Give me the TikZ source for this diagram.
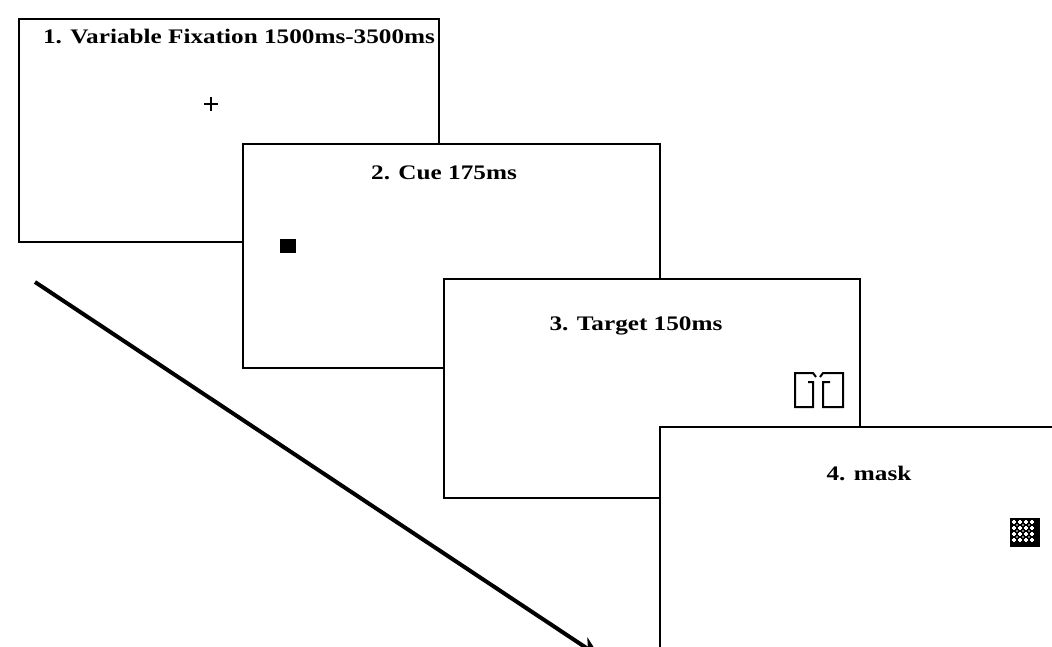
\documentclass[tikz,border=0pt]{standalone}
\usepackage{fontspec}
\setmainfont{Liberation Serif}
\usetikzlibrary{fit,arrows.meta}
\newcommand{\widetext}[1]{\scalebox{1.22}[1]{#1}}
\begin{document}
\begin{tikzpicture}[x=0.75pt,y=-0.75pt,
  screen/.style={draw=black, line width=1.5pt, fill=white, inner sep=0pt},
  lbl/.style={font=\fontsize{15.5}{18}\selectfont\bfseries, inner sep=0pt},
  timeline/.style={line width=3pt, -{Stealth[length=16pt,width=14pt]}},
  sym/.style={line width=1.5pt}]
\useasboundingbox (0,0) rectangle (1052,646);
\fill[white] (0,0) rectangle (1052,646);
\clip (0,0) rectangle (1052,646);

% timeline arrow
\coordinate (tstart) at (35,282);
\coordinate (tend) at (600,657);
\draw[timeline] (tstart) -- (tend);

% screen 1
\node[screen, fit={(19,19)(439,242)}] (s1) {};
\node[lbl] (l1) at (239,36) {\widetext{1. Variable Fixation 1500ms-3500ms}};
\draw[line width=2pt] (204,104) -- (218,104) (211,97) -- (211,111);

% screen 2
\node[screen, fit={(243,144)(660,368)}] (s2) {};
\node[lbl] (l2) at (444,173) {\widetext{2. Cue 175ms}};
\node[fill=black, minimum width=12pt, minimum height=10.5pt, inner sep=0pt] (cue) at (288,246) {};

% screen 3
\node[screen, fit={(444,279)(860,498)}] (s3) {};
\node[lbl] (l3) at (636,326) {\widetext{3. Target 150ms}};
\draw[sym] (808,382) -- (813,382) -- (813,407) -- (795,407) -- (795,373) -- (813,373) -- (816,377);
\draw[sym] (830,382) -- (823,382) -- (823,407) -- (843,407) -- (843,373) -- (823,373) -- (820,377);

% screen 4
\node[screen, fit={(660,427)(1070,670)}] (s4) {};
\node[lbl] (l4) at (869,473) {\widetext{4. mask}};
\node[fill=black, minimum width=22.5pt, minimum height=21.75pt, inner sep=0pt] (mask) at (1025,532.5) {};
\foreach \i in {0,...,3}{
  \foreach \j in {0,...,3}{
    \draw[white, line width=1pt] (1014+6*\i,522+6*\j) ++(-1.6,0) -- ++(3.2,0) ++(-1.6,-1.6) -- ++(0,3.2);
  }
}
\foreach \i in {0,...,2}{
  \foreach \j in {0,...,2}{
    \fill[white] (1017+6*\i,525+6*\j) circle [radius=0.6pt];
  }
}
\end{tikzpicture}
\end{document}
